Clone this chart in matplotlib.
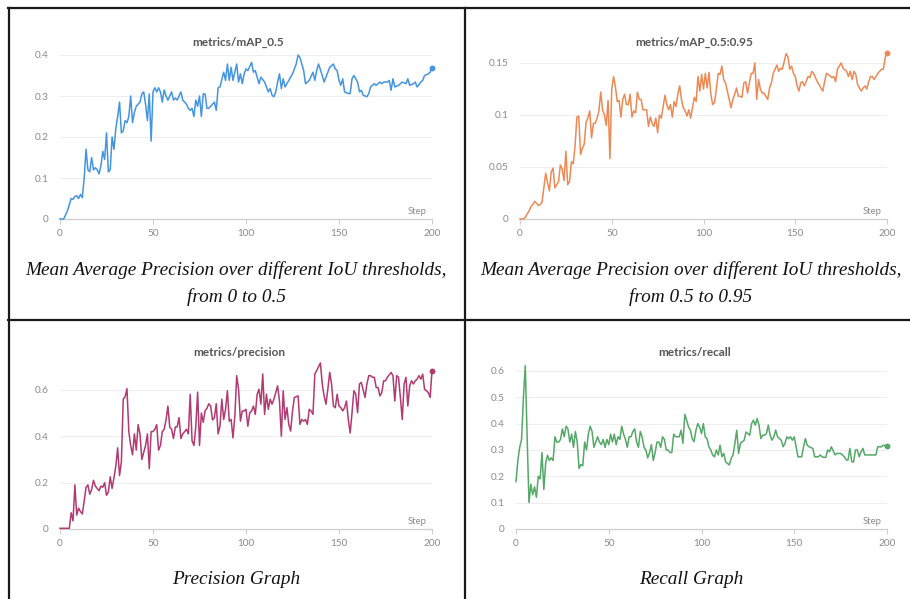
import matplotlib
matplotlib.use('Agg')
import matplotlib.pyplot as plt
from matplotlib.lines import Line2D

# ---------------- data ----------------
map50_steps = list(range(0, 86)) + [86, 88, 89, 90, 91, 92, 93, 95, 96, 97, 98, 99, 100, 101, 103, 104, 105, 106, 107, 108,
    110, 111, 112, 113, 114, 115, 116, 117, 118, 119, 120, 121, 123, 124, 125, 127, 128, 129, 130, 131, 132, 133, 134,
    136, 137, 138, 139, 141, 142, 143, 145, 147, 148, 149, 150, 151, 152, 153, 155, 156, 157, 158, 160, 161, 162, 163,
    165, 166, 167, 169, 170, 172, 173, 174, 176, 177, 178, 179, 180, 182, 183, 184, 186, 187, 188, 190, 191, 192, 194,
    195, 196, 198, 199, 200]
map50_values = [0, 0, 0, 0.01, 0.02, 0.035, 0.05, 0.048, 0.055, 0.057, 0.05, 0.06, 0.052, 0.1, 0.17, 0.12, 0.115, 0.15,
    0.12, 0.125, 0.12, 0.11, 0.13, 0.165, 0.145, 0.21, 0.115, 0.12, 0.2, 0.17, 0.22, 0.25, 0.285, 0.21, 0.215, 0.24,
    0.235, 0.25, 0.3, 0.235, 0.26, 0.275, 0.28, 0.285, 0.305, 0.31, 0.28, 0.24, 0.305, 0.19, 0.31, 0.32, 0.31, 0.32,
    0.31, 0.285, 0.315, 0.3, 0.29, 0.3, 0.31, 0.29, 0.295, 0.29, 0.3, 0.31, 0.29, 0.285, 0.28, 0.27, 0.265, 0.27, 0.25,
    0.29, 0.275, 0.3, 0.25, 0.305, 0.305, 0.27, 0.27, 0.275, 0.28, 0.285, 0.265, 0.32,
    0.322, 0.358, 0.338, 0.378, 0.338, 0.37, 0.338, 0.378, 0.334, 0.354, 0.33, 0.354, 0.366, 0.362, 0.382, 0.358, 0.362,
    0.346, 0.33, 0.346, 0.334, 0.322, 0.31, 0.318, 0.302, 0.298, 0.31, 0.334, 0.354, 0.318, 0.342, 0.322, 0.338, 0.346,
    0.354, 0.378, 0.4, 0.394, 0.378, 0.362, 0.33, 0.334, 0.338, 0.358, 0.338, 0.362, 0.378, 0.35, 0.334, 0.346, 0.37,
    0.378, 0.366, 0.362, 0.338, 0.326, 0.342, 0.31, 0.306, 0.306, 0.342, 0.35, 0.334, 0.31, 0.314, 0.302, 0.298, 0.306,
    0.322, 0.33, 0.326, 0.334, 0.33, 0.334, 0.334, 0.338, 0.314, 0.342, 0.322, 0.326, 0.33, 0.334, 0.33, 0.342, 0.326,
    0.33, 0.334, 0.322, 0.334, 0.338, 0.35, 0.354, 0.358, 0.369]

map5095_steps = list(range(0, 144)) + list(range(145, 156)) + list(range(157, 169)) + list(range(170, 177)) + list(range(178, 201))
map5095_values = [0, 0, 0, 0.002, 0.005, 0.008, 0.012, 0.014, 0.017, 0.015, 0.013, 0.014, 0.016, 0.03, 0.044, 0.035,
    0.027, 0.045, 0.049, 0.03, 0.033, 0.036, 0.052, 0.048, 0.037, 0.065, 0.033, 0.036, 0.055, 0.053, 0.07, 0.098, 0.099,
    0.062, 0.068, 0.072, 0.093, 0.097, 0.104, 0.078, 0.092, 0.092, 0.097, 0.104, 0.122, 0.105, 0.1, 0.09, 0.114, 0.058,
    0.125, 0.137, 0.127, 0.113, 0.114, 0.098, 0.115, 0.12, 0.11, 0.11, 0.12, 0.098, 0.104, 0.102, 0.122, 0.115, 0.115,
    0.105, 0.105, 0.105, 0.089, 0.098, 0.092, 0.089, 0.097, 0.083, 0.1, 0.097, 0.108, 0.119, 0.11, 0.105, 0.11, 0.098,
    0.113, 0.108, 0.12,
    0.128, 0.115, 0.107, 0.104, 0.099, 0.105, 0.097, 0.107, 0.117, 0.113, 0.137, 0.123, 0.139, 0.125, 0.14, 0.126, 0.141,
    0.12, 0.11, 0.112, 0.125, 0.14, 0.139, 0.147, 0.134, 0.131, 0.123, 0.115, 0.107, 0.115, 0.12, 0.126, 0.118, 0.118,
    0.117, 0.131, 0.132, 0.121, 0.131, 0.14, 0.14, 0.15, 0.115, 0.134, 0.125, 0.121, 0.121, 0.118, 0.115, 0.126, 0.131,
    0.14, 0.144, 0.148, 0.142, 0.145, 0.144,
    0.159, 0.156, 0.144, 0.147, 0.14, 0.137, 0.128, 0.123, 0.131, 0.132, 0.128,
    0.137, 0.136, 0.142, 0.14, 0.136, 0.132, 0.129, 0.126, 0.123, 0.132, 0.14, 0.139,
    0.136, 0.137, 0.132, 0.144, 0.147, 0.15, 0.145,
    0.142, 0.137, 0.142, 0.134, 0.142, 0.139, 0.129, 0.126, 0.123, 0.126, 0.128, 0.125, 0.132, 0.137, 0.137, 0.134,
    0.137, 0.14, 0.142, 0.144, 0.144, 0.155, 0.16]

precision_steps = list(range(0, 127)) + list(range(128, 139)) + list(range(140, 163)) + list(range(164, 177)) + list(range(178, 201))
precision_values = [0.003, 0.003, 0.003, 0.003, 0.003, 0.003, 0.07, 0.035, 0.19, 0.06, 0.09, 0.075, 0.065, 0.12, 0.18,
    0.19, 0.15, 0.17, 0.21, 0.185, 0.175, 0.165, 0.185, 0.18, 0.2, 0.145, 0.16, 0.225, 0.175, 0.22, 0.27, 0.35, 0.23,
    0.29, 0.56, 0.57, 0.605, 0.42, 0.36, 0.32, 0.41, 0.34, 0.45, 0.41, 0.3, 0.33, 0.36, 0.41, 0.26, 0.42, 0.42, 0.43,
    0.45, 0.34, 0.36, 0.42, 0.43, 0.47, 0.53, 0.44, 0.43, 0.39, 0.44, 0.44, 0.48, 0.39, 0.41, 0.42, 0.43, 0.41, 0.58,
    0.38, 0.36, 0.44, 0.59, 0.36, 0.5, 0.46, 0.51, 0.52, 0.54, 0.53, 0.47, 0.48, 0.54, 0.41,
    0.443, 0.56, 0.472, 0.516, 0.596, 0.465, 0.472, 0.393, 0.487, 0.661, 0.603, 0.465, 0.509, 0.509, 0.516, 0.443, 0.501,
    0.509, 0.53, 0.494, 0.581, 0.603, 0.538, 0.668, 0.494, 0.581, 0.516, 0.56, 0.538, 0.56, 0.588, 0.617, 0.552, 0.4,
    0.596, 0.472, 0.523, 0.451, 0.422, 0.509, 0.567,
    0.574, 0.451, 0.472, 0.465, 0.472, 0.451, 0.516, 0.509, 0.494, 0.668, 0.683,
    0.716, 0.625, 0.574, 0.538, 0.603, 0.675, 0.625, 0.53, 0.523, 0.581, 0.53, 0.523, 0.509, 0.523, 0.552, 0.472, 0.414,
    0.501, 0.596, 0.581, 0.501, 0.625, 0.632,
    0.567, 0.625, 0.661, 0.661, 0.654, 0.654, 0.61, 0.61, 0.574, 0.588, 0.639, 0.639, 0.654,
    0.675, 0.661, 0.552, 0.661, 0.654, 0.567, 0.472, 0.625, 0.654, 0.53, 0.617, 0.639, 0.625, 0.639, 0.646, 0.661, 0.646,
    0.668, 0.603, 0.596, 0.588, 0.567, 0.683]

recall_steps = list(range(0, 159)) + list(range(160, 171)) + list(range(172, 191)) + [192, 194, 195, 196, 197, 198, 200]
recall_values = [0.18, 0.26, 0.31, 0.34, 0.5, 0.62, 0.35, 0.1, 0.17, 0.13, 0.16, 0.12, 0.2, 0.19, 0.29, 0.15, 0.25,
    0.28, 0.26, 0.27, 0.26, 0.35, 0.33, 0.33, 0.34, 0.38, 0.35, 0.39, 0.38, 0.33, 0.36, 0.31, 0.37, 0.33, 0.23, 0.245,
    0.24, 0.33, 0.3, 0.36, 0.39, 0.37, 0.31, 0.33, 0.35, 0.33, 0.32, 0.34, 0.31, 0.34, 0.32, 0.36, 0.33, 0.36, 0.32,
    0.35, 0.34, 0.39, 0.36, 0.34, 0.31, 0.35, 0.35, 0.37, 0.38, 0.33, 0.31, 0.37, 0.35, 0.31, 0.3, 0.27, 0.29, 0.32,
    0.26, 0.29, 0.33, 0.33, 0.31, 0.35, 0.34, 0.3, 0.3, 0.29, 0.29, 0.36, 0.35, 0.35, 0.35,
    0.375, 0.325, 0.435, 0.413, 0.387, 0.375, 0.343, 0.331, 0.375, 0.4, 0.387, 0.362, 0.4, 0.35, 0.343, 0.312, 0.3,
    0.281, 0.274, 0.3, 0.281, 0.318, 0.274, 0.287, 0.255, 0.249, 0.243, 0.268, 0.281, 0.325, 0.375, 0.287, 0.325, 0.331,
    0.337, 0.368, 0.362, 0.356, 0.4, 0.413, 0.394, 0.419, 0.394, 0.343, 0.356, 0.356, 0.362, 0.394, 0.356, 0.337, 0.35,
    0.375, 0.35, 0.343, 0.337, 0.312, 0.325, 0.35, 0.343, 0.35, 0.337, 0.35, 0.312, 0.274, 0.274, 0.274, 0.312, 0.343,
    0.318, 0.312,
    0.306, 0.274, 0.274, 0.274, 0.281, 0.274, 0.272, 0.272, 0.3, 0.293, 0.312,
    0.281, 0.287, 0.287, 0.287, 0.281, 0.274, 0.262, 0.262, 0.306, 0.255, 0.255, 0.3, 0.3, 0.274, 0.293, 0.306, 0.281,
    0.281, 0.281,
    0.281, 0.281, 0.312, 0.312, 0.312, 0.318, 0.314]

titles = ["metrics/mAP_0.5", "metrics/mAP_0.5:0.95", "metrics/precision", "metrics/recall"]
captions = [["Mean Average Precision over different IoU thresholds,", "from 0 to 0.5"],
            ["Mean Average Precision over different IoU thresholds,", "from 0.5 to 0.95"],
            ["Precision Graph"],
            ["Recall Graph"]]
x_ticks = [0, 50, 100, 150, 200]
x_ticklabels = ["0", "50", "100", "150", "200"]
yticks_list = [[0, 0.1, 0.2, 0.3, 0.4], [0, 0.05, 0.1, 0.15], [0, 0.2, 0.4, 0.6],
               [0, 0.1, 0.2, 0.3, 0.4, 0.5, 0.6]]
yticklabels_list = [["0", "0.1", "0.2", "0.3", "0.4"], ["0", "0.05", "0.1", "0.15"],
                    ["0", "0.2", "0.4", "0.6"], ["0", "0.1", "0.2", "0.3", "0.4", "0.5", "0.6"]]

# ---------------- layout / style ----------------
W, H = 910, 599
fig = plt.figure(figsize=(W / 100, H / 100), dpi=100)
fig.patch.set_facecolor('white')

# (left px, right px, y0 px, top px, ymax)
boxes = [(60, 432, 219, 50.9, 0.41), (520, 887, 219, 52.6, 0.16),
         (60, 432, 529, 362, 0.72), (516, 887, 529, 363, 0.63)]
colors = ['#4495e0', '#ec8a55', '#b13a72', '#55a868']
title_pos = [(238.5, 42), (694.5, 42), (239, 352), (694.5, 352)]
caption_pos = [(236, 270, 27), (691, 270, 27), (236, 579, 0), (691, 580, 0)]

series = [(map50_steps, map50_values), (map5095_steps, map5095_values),
          (precision_steps, precision_values), (recall_steps, recall_values)]

tick_font = 'Lato'
for i, ((l, r, y0, yt, ymax), (st, va)) in enumerate(zip(boxes, series)):
    ax = fig.add_axes([l / W, 1 - y0 / H, (r - l) / W, (y0 - yt) / H])
    ax.plot(st, va, color=colors[i], lw=1.1, solid_joinstyle='round', clip_on=False, zorder=3)
    ax.plot(st[-1], va[-1], 'o', color=colors[i], ms=3.2, clip_on=False, zorder=4)
    ax.set_xlim(0, 200)
    ax.set_ylim(0, ymax)
    ax.set_xticks(x_ticks, x_ticklabels, fontfamily=tick_font)
    ax.set_yticks(yticks_list[i], yticklabels_list[i], fontfamily=tick_font)
    for s in ['top', 'right', 'left']:
        ax.spines[s].set_visible(False)
    ax.spines['bottom'].set_color('#cfcfcf')
    ax.spines['bottom'].set_linewidth(0.9)
    ax.tick_params(axis='y', length=0, pad=8, labelsize=7.2, labelcolor='#8a8a8a')
    ax.tick_params(axis='x', length=3.5, width=0.8, color='#cfcfcf', pad=4, labelsize=7.2, labelcolor='#8a8a8a')
    ax.grid(axis='y', color='#eeeeee', lw=0.8)
    ax.set_axisbelow(True)
    ax.patch.set_alpha(0)
    ax.annotate('Step', xy=(1, 0), xycoords='axes fraction', xytext=(-4, 2.5), textcoords='offset points',
                ha='right', va='bottom', fontsize=6.8, color='#8a8a8a', fontfamily=tick_font)
    tx, ty = title_pos[i]
    fig.text(tx / W, 1 - ty / H, titles[i], ha='center', va='center', fontsize=8.5, fontweight='bold',
             color='#555555', fontfamily=tick_font)
    cx, cy, dy = caption_pos[i]
    for j, line in enumerate(captions[i]):
        fig.text(cx / W, 1 - (cy + j * dy) / H, line, ha='center', va='center', fontsize=13.9,
                 fontstyle='italic', fontfamily='Liberation Serif', color='#111111')

# panel borders
def hline(y, x0, x1):
    fig.add_artist(Line2D([x0 / W, x1 / W], [1 - y / H, 1 - y / H], transform=fig.transFigure,
                          color='#1a1a1a', lw=1.6))

def vline(x, y0, y1):
    fig.add_artist(Line2D([x / W, x / W], [1 - y0 / H, 1 - y1 / H], transform=fig.transFigure,
                          color='#1a1a1a', lw=1.6))

hline(8, 8, 910)
hline(320, 8, 910)
vline(8.5, 8, 599)
vline(465, 8, 599)

fig.savefig('out.png', dpi=100)
